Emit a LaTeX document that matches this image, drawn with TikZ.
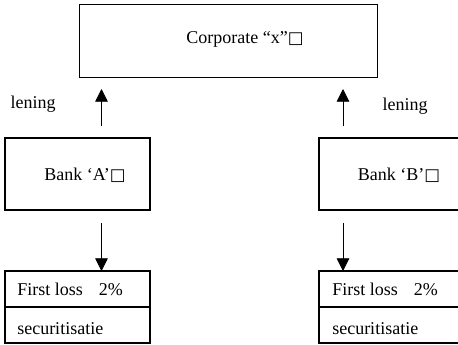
\documentclass[tikz,border=0pt]{standalone}
\usepackage{fontspec}
\setmainfont{Liberation Serif}
\newfontfamily\symfont{DejaVu Sans}
\usetikzlibrary{arrows.meta}
\newcommand{\sqbox}{{\symfont\fontsize{12.5}{12.5}\selectfont □}}
\begin{document}
\begin{tikzpicture}[x=0.75pt,y=-0.75pt,
  box/.style={draw,line width=0.8pt,inner sep=0pt},
  lbl/.style={font=\fontsize{13.5}{15}\selectfont,inner sep=0pt},
  arr/.style={line width=0.6pt,-{Triangle[length=9.5pt,width=9.5pt]}}]
\useasboundingbox (0,0) rectangle (458,344);
% corporate
\node[box,minimum width=298*0.75pt,minimum height=73*0.75pt] (corp) at (228.5,41) {};
\node[lbl] (corpt) at (245,39) {Corporate “x”\sqbox};
% banks
\node[box,minimum width=145*0.75pt,minimum height=72*0.75pt] (bankA) at (77.5,174) {};
\node[lbl] (bankAt) at (85,175) {Bank ‘A’\sqbox};
\node[box,minimum width=140*0.75pt,minimum height=72*0.75pt] (bankB) at (389,174) {};
\node[lbl] (bankBt) at (399,175) {Bank ‘B’\sqbox};
% lening labels
\node[lbl] (lenA) at (33,104) {lening};
\node[lbl] (lenB) at (405,106) {lening};
% arrows up
\coordinate (aAs) at (101.5,126);
\coordinate (aAe) at (101.5,89);
\coordinate (aBs) at (343,126);
\coordinate (aBe) at (343,89);
\draw[arr] (aAs) -- (aAe);
\draw[arr] (aBs) -- (aBe);
% lower boxes
\node[box,minimum width=145*0.75pt,minimum height=36*0.75pt] (flA) at (77.5,289) {};
\node[box,minimum width=145*0.75pt,minimum height=36*0.75pt] (secA) at (77.5,325) {};
\node[box,minimum width=140*0.75pt,minimum height=36*0.75pt] (flB) at (389,289) {};
\node[box,minimum width=140*0.75pt,minimum height=36*0.75pt] (secB) at (389,325) {};
\node[lbl,anchor=west] (flAt) at (17,289) {First loss\hspace{0.9em}2\%};
\node[lbl,anchor=west] (secAt) at (17,329) {securitisatie};
\node[lbl,anchor=west] (flBt) at (332,289) {First loss\hspace{0.9em}2\%};
\node[lbl,anchor=west] (secBt) at (332,329) {securitisatie};
% arrows down
\coordinate (dAs) at (101.5,223);
\coordinate (dAe) at (101.5,271);
\coordinate (dBs) at (343,223);
\coordinate (dBe) at (343,271);
\draw[arr] (dAs) -- (dAe);
\draw[arr] (dBs) -- (dBe);
\end{tikzpicture}
\end{document}
